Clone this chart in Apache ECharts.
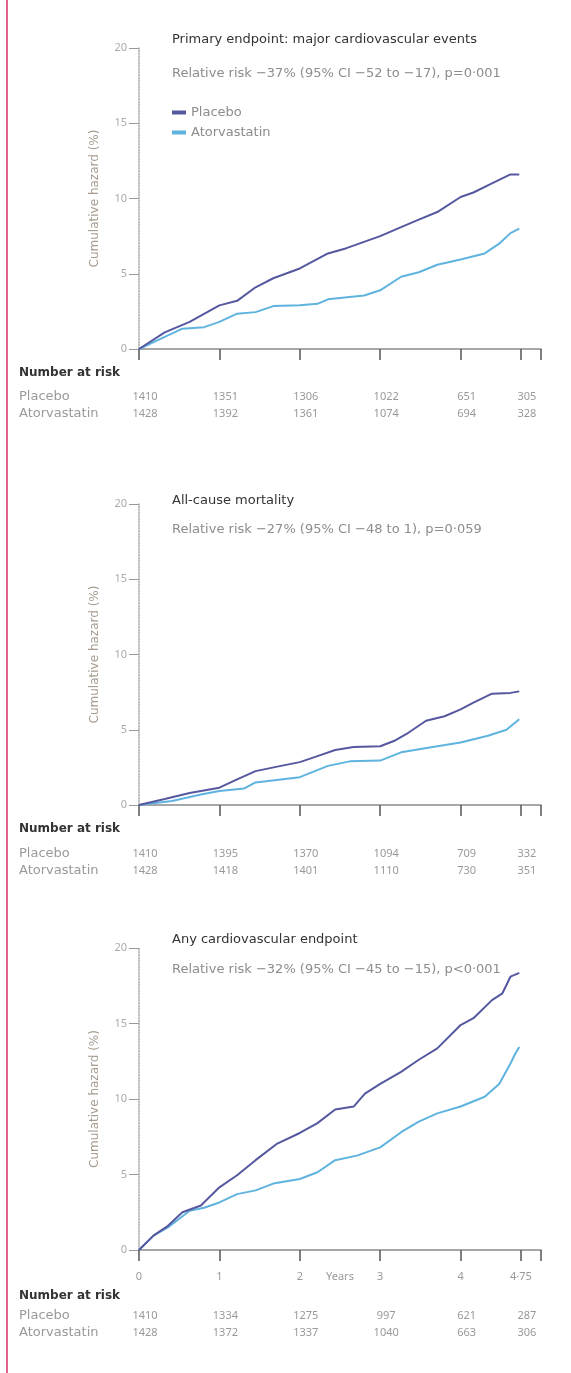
<!DOCTYPE html>
<html>
<head>
<meta charset="utf-8">
<script src="https://cdn.jsdelivr.net/npm/echarts@6/dist/echarts.min.js"></script>
<style>
  html, body { margin: 0; padding: 0; background: #fff; }
  #main { width: 571px; height: 1373px; }
</style>
</head>
<body>
<div id="main"></div>
<script>
// cumulative hazard curves, [years, %]
const primaryPlacebo = [[0,0],[0.32,1.1],[0.63,1.8],[1,2.9],[1.22,3.2],[1.45,4.1],[1.67,4.7],[2,5.35],[2.35,6.35],[2.58,6.7],[3,7.5],[3.26,8.1],[3.48,8.6],[3.71,9.1],[4,10.1],[4.16,10.4],[4.39,11.0],[4.62,11.6],[4.73,11.6]]
const primaryAtorva = [[0,0],[0.32,0.8],[0.54,1.35],[0.81,1.45],[1,1.8],[1.22,2.35],[1.45,2.45],[1.67,2.85],[2,2.9],[2.22,3.0],[2.35,3.3],[2.8,3.55],[3,3.9],[3.26,4.8],[3.48,5.1],[3.71,5.6],[4,5.95],[4.3,6.35],[4.48,7.0],[4.62,7.7],[4.73,8.0]]
const mortPlacebo = [[0,0],[0.32,0.4],[0.63,0.8],[1,1.15],[1.22,1.7],[1.45,2.25],[1.72,2.55],[2,2.85],[2.22,3.25],[2.44,3.65],[2.67,3.85],[3,3.9],[3.17,4.25],[3.35,4.8],[3.57,5.6],[3.8,5.9],[4,6.35],[4.16,6.8],[4.39,7.4],[4.62,7.45],[4.73,7.55]]
const mortAtorva = [[0,0],[0.41,0.27],[0.77,0.7],[1,0.93],[1.31,1.1],[1.45,1.5],[2,1.85],[2.35,2.6],[2.62,2.9],[3,2.95],[3.26,3.5],[3.71,3.9],[4,4.15],[4.34,4.6],[4.57,5.0],[4.73,5.7]]
const cvPlacebo = [[0,0],[0.18,0.95],[0.36,1.6],[0.54,2.5],[0.77,2.95],[1,4.15],[1.22,4.95],[1.45,5.95],[1.72,7.05],[2,7.75],[2.22,8.4],[2.44,9.3],[2.67,9.5],[2.81,10.35],[3,11.0],[3.26,11.8],[3.48,12.6],[3.71,13.35],[4,14.9],[4.16,15.35],[4.39,16.55],[4.52,17.0],[4.62,18.1],[4.73,18.35]]
const cvAtorva = [[0,0],[0.18,0.95],[0.36,1.5],[0.63,2.6],[0.81,2.8],[1,3.15],[1.22,3.7],[1.45,3.95],[1.67,4.4],[2,4.7],[2.22,5.15],[2.44,5.95],[2.71,6.25],[3,6.8],[3.26,7.8],[3.48,8.5],[3.71,9.05],[4,9.5],[4.3,10.15],[4.48,11.0],[4.62,12.35],[4.68,13.0],[4.73,13.45]]

// number at risk
const riskTimes = [0, 1, 2, 3, 4, 4.75]
const riskPrimaryPlacebo = [1410, 1351, 1306, 1022, 651, 305]
const riskPrimaryAtorva = [1428, 1392, 1361, 1074, 694, 328]
const riskMortPlacebo = [1410, 1395, 1370, 1094, 709, 332]
const riskMortAtorva = [1428, 1418, 1401, 1110, 730, 351]
const riskCvPlacebo = [1410, 1334, 1275, 997, 621, 287]
const riskCvAtorva = [1428, 1372, 1337, 1040, 663, 306]

const xTicks = [0, 1, 2, 3, 4, 4.75, 5]
const xLabels = [0, 1, 2, 3, 4, 4.75]

const panelTitles = ['Primary endpoint: major cardiovascular events', 'All-cause mortality', 'Any cardiovascular endpoint']
const panelSubtitles = [
  'Relative risk \u221237% (95% CI \u221252 to \u221217), p=0\u00b7001',
  'Relative risk \u221227% (95% CI \u221248 to 1), p=0\u00b7059',
  'Relative risk \u221232% (95% CI \u221245 to \u221215), p<0\u00b7001'
]

const FONT = 'DejaVu Sans'
const NUMFONT = 'Noto Sans'
const placeboColor = '#55589f'
const atorvaColor = '#5fb3df'

const grids = [
  { left: 139, width: 402, top: 48, height: 301 },
  { left: 139, width: 402, top: 504, height: 301 },
  { left: 139, width: 402, top: 948, height: 302 }
]

function xAxis(i) {
  const last = i === 2
  return {
    type: 'value', gridIndex: i, min: 0, max: 5,
    name: last ? 'Years' : '', nameLocation: 'middle', nameGap: 27, nameMoveOverlap: false,
    nameTextStyle: { color: '#999', fontFamily: NUMFONT, fontSize: 11, verticalAlign: 'middle' },
    axisLine: { lineStyle: { color: '#8a8a8a', width: 1.5 } },
    axisTick: { show: true, length: 11, customValues: xTicks, lineStyle: { color: '#555', width: 1.5 } },
    axisLabel: {
      show: last, customValues: xLabels, margin: 21, color: '#999', fontFamily: NUMFONT, fontSize: 11,
      formatter: v => String(v).replace('.', '\u00b7')
    },
    splitLine: { show: false }
  }
}

function yAxis(i) {
  return {
    type: 'value', gridIndex: i, min: 0, max: 20, interval: 5,
    name: 'Cumulative hazard (%)', nameLocation: 'middle', nameGap: 38, nameRotate: 90,
    nameTextStyle: { color: '#a79c90', fontFamily: FONT, fontSize: 12 },
    axisLine: { show: true, lineStyle: { color: '#aaa', type: 'dotted', width: 1.5 } },
    axisTick: { show: true, length: 10, lineStyle: { color: '#999' } },
    axisLabel: { color: '#aaa', fontFamily: NUMFONT, fontSize: 11, margin: 12 },
    splitLine: { show: false }
  }
}

function line(name, i, data, color) {
  return {
    name: name, type: 'line', xAxisIndex: i, yAxisIndex: i, data: data,
    showSymbol: false, symbol: 'none', silent: true, z: color === placeboColor ? 3 : 2,
    lineStyle: { color: color, width: 2 }, itemStyle: { color: color }
  }
}

const titleTops = [28, 489, 928]
const subTops = [62, 518, 958]
const titles = []
panelTitles.forEach((t, i) => {
  titles.push({ text: t, left: 167, top: titleTops[i], textStyle: { color: '#333', fontFamily: FONT, fontSize: 13, fontWeight: 'normal' } })
  titles.push({ text: panelSubtitles[i], left: 167, top: subTops[i], textStyle: { color: '#8c8c8c', fontFamily: FONT, fontSize: 13, fontWeight: 'normal' } })
})

const chart = echarts.init(document.getElementById('main'))
chart.setOption({
  animation: false,
  title: titles,
  legend: {
    orient: 'vertical', left: 167, top: 101, itemWidth: 14, itemHeight: 4, itemGap: 7,
    icon: 'rect', data: ['Placebo', 'Atorvastatin'],
    textStyle: { color: '#8c8c8c', fontFamily: FONT, fontSize: 13 }
  },
  grid: grids,
  xAxis: [0, 1, 2].map(xAxis),
  yAxis: [0, 1, 2].map(yAxis),
  series: [
    line('Placebo', 0, primaryPlacebo, placeboColor),
    line('Atorvastatin', 0, primaryAtorva, atorvaColor),
    line('Placebo', 1, mortPlacebo, placeboColor),
    line('Atorvastatin', 1, mortAtorva, atorvaColor),
    line('Placebo', 2, cvPlacebo, placeboColor),
    line('Atorvastatin', 2, cvAtorva, atorvaColor)
  ]
})

// number-at-risk tables placed from the x scales
const riskRows = [
  [riskPrimaryPlacebo, riskPrimaryAtorva],
  [riskMortPlacebo, riskMortAtorva],
  [riskCvPlacebo, riskCvAtorva]
]
const rowOffsets = [[24, 48, 65], [24, 49, 66], [46, 66, 83]]
const graphics = [{
  type: 'line', shape: { x1: 7, y1: 0, x2: 7, y2: 1373 },
  style: { stroke: '#d42d6b', lineWidth: 1.5 }
}]
riskRows.forEach((rows, i) => {
  const axisY = chart.convertToPixel({ yAxisIndex: i }, 0)
  const off = rowOffsets[i]
  graphics.push({ type: 'text', x: 19, y: axisY + off[0], style: { text: 'Number at risk', fill: '#333', font: 'bold 12px "DejaVu Sans"', verticalAlign: 'middle' } })
  graphics.push({ type: 'text', x: 19, y: axisY + off[1], style: { text: 'Placebo', fill: '#999', font: '13px "DejaVu Sans"', verticalAlign: 'middle' } })
  graphics.push({ type: 'text', x: 19, y: axisY + off[2], style: { text: 'Atorvastatin', fill: '#999', font: '13px "DejaVu Sans"', verticalAlign: 'middle' } })
  rows.forEach((vals, r) => {
    vals.forEach((v, k) => {
      const px = chart.convertToPixel({ xAxisIndex: i }, riskTimes[k])
      graphics.push({
        type: 'text', x: px + 6, y: axisY + off[r + 1],
        style: { text: String(v), fill: '#999', font: '11px "Noto Sans"', align: 'center', verticalAlign: 'middle' }
      })
    })
  })
})
chart.setOption({ graphic: graphics })
</script>
</body>
</html>
